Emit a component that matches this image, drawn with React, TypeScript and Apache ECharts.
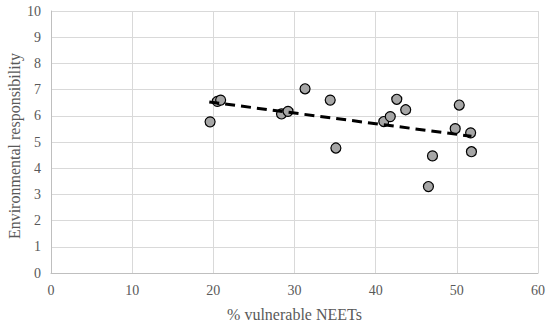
import React, { useEffect, useRef } from "react";
import * as echarts from "echarts";

const xValues = [19.6, 20.5, 20.9, 28.4, 29.2, 31.3, 34.4, 35.1, 41.0, 41.8, 42.6, 43.7, 46.5, 47.0, 49.8, 50.3, 51.7, 51.8];
const yValues = [5.77, 6.55, 6.6, 6.07, 6.17, 7.03, 6.6, 4.77, 5.78, 5.97, 6.63, 6.23, 3.3, 4.47, 5.51, 6.41, 5.35, 4.63];
const trendX = [19.5, 51.8];
const trendY = [6.53, 5.22];

const font = "Liberation Serif";

export default function App() {
  const ref = useRef<HTMLDivElement>(null);
  useEffect(() => {
    document.body.style.margin = "0";
    if (!ref.current) return;
    const chart = echarts.init(ref.current, null, { renderer: "svg" });
    chart.setOption({
      animation: false,
      textStyle: { fontFamily: font },
      grid: { left: 51, right: 12, top: 11, bottom: 51, containLabel: false, outerBoundsMode: "none" },
      xAxis: {
        type: "value",
        min: 0,
        max: 60,
        interval: 10,
        name: "% vulnerable NEETs",
        nameLocation: "middle",
        nameGap: 33,
        nameMoveOverlap: false,
        nameTextStyle: { fontFamily: font, fontSize: 16, color: "#595959" },
        axisLine: { show: true, lineStyle: { color: "#bfbfbf" } },
        axisTick: { show: false },
        axisLabel: { fontFamily: font, fontSize: 14, color: "#595959", margin: 10 },
        splitLine: { show: true, lineStyle: { color: "#d9d9d9" } },
      },
      yAxis: {
        type: "value",
        min: 0,
        max: 10,
        interval: 1,
        name: "Environmental responsibility",
        nameLocation: "middle",
        nameGap: 29,
        nameMoveOverlap: false,
        nameTextStyle: { fontFamily: font, fontSize: 16, color: "#595959", padding: [0, 8, 0, 0] },
        axisLine: { show: true, lineStyle: { color: "#bfbfbf" } },
        axisTick: { show: false },
        axisLabel: { fontFamily: font, fontSize: 14, color: "#595959", margin: 10 },
        splitLine: { show: true, lineStyle: { color: "#d9d9d9" } },
      },
      series: [
        {
          type: "line",
          data: trendX.map((x, i) => [x, trendY[i]]),
          showSymbol: false,
          symbol: "none",
          lineStyle: { color: "#000000", width: 3, type: [10, 6] },
          z: 3,
        },
        {
          type: "scatter",
          data: xValues.map((x, i) => [x, yValues[i]]),
          symbol: "circle",
          symbolSize: 10,
          itemStyle: { color: "#a6a6a6", borderColor: "#000000", borderWidth: 1.2, opacity: 1 },
          z: 2,
        },
      ],
    });
    return () => chart.dispose();
  }, []);
  return <div ref={ref} style={{ width: 550, height: 324 }} />;
}
